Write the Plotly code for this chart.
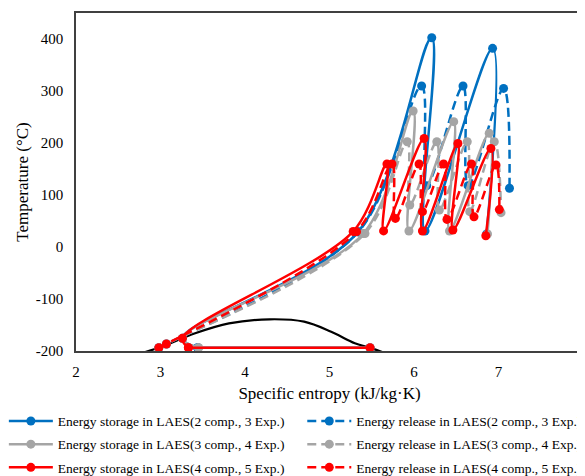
import plotly.graph_objects as go

# ---------------- data ----------------
x_ticks = [2, 3, 4, 5, 6, 7, 8]
y_ticks = [-200, -100, 0, 100, 200, 300, 400]

series_names = [
    "Energy storage in LAES(2 comp., 3 Exp.)",
    "Energy release in LAES(2 comp., 3 Exp.)",
    "Energy storage in LAES(3 comp., 4 Exp.)",
    "Energy release in LAES(3 comp., 4 Exp.)",
    "Energy storage in LAES(4 comp., 5 Exp.)",
    "Energy release in LAES(4 comp., 5 Exp.)",
]

# saturation dome
dome_s = [2.80, 3.01, 3.41, 3.81, 4.29, 4.70, 5.02, 5.30, 5.50, 5.64]
dome_T = [-203, -192, -166, -147, -139, -143.6, -163, -185, -195, -203]

# 2 compressors, 3 expanders
storage_2c3e_s = [6.86, 6.93, 6.13, 6.21, 5.34, 3.26, 3.44, 5.48]
storage_2c3e_T = [25, 382, 30.8, 402.5, 29.5, -175.6, -193.7, -193.7]
release_2c3e_s = [2.98, 3.07, 5.34, 6.09, 6.15, 6.58, 6.64, 7.06, 7.13]
release_2c3e_T = [-193.7, -186.5, 29, 309.6, 118, 309.6, 118, 305, 113]

# 3 compressors, 4 expanders
storage_3c4e_s = [6.87, 6.89, 6.42, 6.47, 5.94, 5.99, 5.40, 3.26, 3.45, 5.48]
storage_3c4e_T = [25, 218.7, 30.8, 241, 30.8, 261.5, 26, -175.6, -193.7, -193.7]
release_3c4e_s = [2.98, 3.07, 5.42, 5.92, 5.95, 6.27, 6.30, 6.63, 6.66, 6.95, 7.03]
release_3c4e_T = [-193.7, -186.5, 26, 202.5, 80.8, 202.5, 71, 202.5, 68, 202.5, 66]

# 4 compressors, 5 expanders
storage_4c5e_s = [6.85, 6.91, 6.46, 6.52, 6.10, 6.12, 5.64, 5.68, 5.28, 3.26, 3.33, 5.48]
storage_4c5e_T = [21.6, 189.6, 32.7, 199, 30.8, 208.7, 31, 159.6, 30, -175.6, -193.7, -193.7]
release_4c5e_s = [2.98, 3.07, 5.32, 5.74, 5.78, 6.06, 6.10, 6.35, 6.39, 6.68, 6.71, 6.97, 7.01]
release_4c5e_T = [-193.7, -186.5, 29.5, 159.6, 55, 159.6, 68, 159.6, 53, 159.6, 58, 157.7, 72]

# ---------------- styles ----------------
BLUE = "#0070C0"
GRAY = "#A5A5A5"
RED = "#FF0000"
FONT = "Liberation Serif"
DASH = "9px,5px"
LW = 2.5
MS = 9

fig = go.Figure()

fig.add_trace(go.Scatter(
    x=dome_s, y=dome_T, mode="lines", showlegend=False,
    line=dict(color="black", width=2.2, shape="spline"), hoverinfo="skip"))

series = [
    (storage_2c3e_s, storage_2c3e_T, BLUE, "solid", "legend", series_names[0], True),
    (release_2c3e_s, release_2c3e_T, BLUE, DASH, "legend2", series_names[1], False),
    (storage_3c4e_s, storage_3c4e_T, GRAY, "solid", "legend", series_names[2], True),
    (release_3c4e_s, release_3c4e_T, GRAY, DASH, "legend2", series_names[3], False),
    (storage_4c5e_s, storage_4c5e_T, RED, "solid", "legend", series_names[4], True),
    (release_4c5e_s, release_4c5e_T, RED, DASH, "legend2", series_names[5], False),
]
for i, (xs, ys, col, dash, leg, name, is_storage) in enumerate(series):
    # smoothed path (storage: up to the throttle outlet)
    xs_s = xs[:-1] if is_storage else xs
    ys_s = ys[:-1] if is_storage else ys
    fig.add_trace(go.Scatter(
        x=xs_s, y=ys_s, mode="lines+markers", name=name, legend=leg,
        legendgroup="g%d" % i,
        line=dict(color=col, width=LW, dash=dash, shape="spline", smoothing=1.0),
        marker=dict(color=col, size=MS, symbol="circle", line=dict(width=0)),
    ))
    if is_storage:
        # straight liquid/vapour separation line at the bottom
        fig.add_trace(go.Scatter(
            x=xs[-2:], y=ys[-2:], mode="lines+markers", showlegend=False,
            legend=leg, legendgroup="g%d" % i,
            line=dict(color=col, width=LW, dash=dash),
            marker=dict(color=col, size=MS, symbol="circle", line=dict(width=0)),
        ))

axis_common = dict(
    showgrid=False, zeroline=False, showline=True, mirror=True,
    linecolor="#404040", linewidth=1.5, ticks="",
    tickfont=dict(family=FONT, size=15, color="black"),
)
fig.update_xaxes(range=[2, 8], tickvals=x_ticks, ticktext=[str(v) for v in x_ticks],
                 title=dict(text="Specific entropy (kJ/kg·K)",
                            font=dict(family=FONT, size=17, color="black"), standoff=8),
                 ticklabelstandoff=6, **axis_common)
fig.update_yaxes(range=[-200, 450], tickvals=y_ticks, ticktext=[str(v) for v in y_ticks],
                 title=dict(text="Temperature (°C)",
                            font=dict(family=FONT, size=17, color="black"), standoff=3),
                 ticklabelstandoff=8, **axis_common)

leg_common = dict(orientation="v", yanchor="top", xanchor="left",
                  font=dict(family=FONT, size=13.5, color="black"),
                  bgcolor="rgba(0,0,0,0)", itemwidth=44, tracegroupgap=2.6)
# page has an 8px body margin: figure is 577x468 so that it fills the 585x476 window
fig.update_layout(
    width=577, height=468,
    margin=dict(l=68, r=2, t=5, b=125, autoexpand=False),
    paper_bgcolor="white", plot_bgcolor="white",
    font=dict(family=FONT, color="black"),
    legend=dict(x=-0.1423, y=-0.1620, **leg_common),
    legend2=dict(x=0.4463, y=-0.1620, **leg_common),
)

fig.write_html("out.html")
